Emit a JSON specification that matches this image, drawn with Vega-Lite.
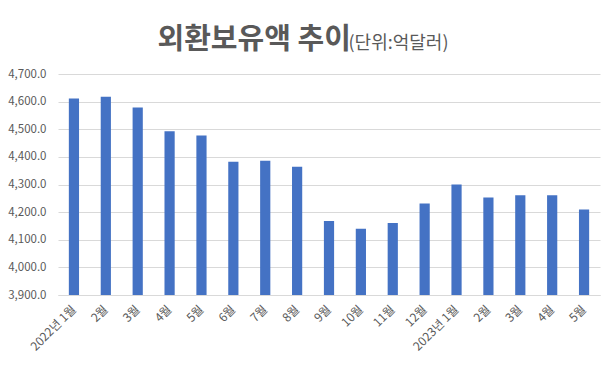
{
  "$schema": "https://vega.github.io/schema/vega-lite/v6.json",
  "autosize": {"type": "none"},
  "padding": {"left": 58, "top": 74, "right": 14, "bottom": 74},
  "width": 542,
  "height": 221,
  "background": "white",
  "data": {
    "values": [
      {"ym": "2022-01", "value": 4611.5},
      {"ym": "2022-02", "value": 4617.7},
      {"ym": "2022-03", "value": 4579.0},
      {"ym": "2022-04", "value": 4493.0},
      {"ym": "2022-05", "value": 4477.1},
      {"ym": "2022-06", "value": 4382.8},
      {"ym": "2022-07", "value": 4386.1},
      {"ym": "2022-08", "value": 4364.3},
      {"ym": "2022-09", "value": 4167.7},
      {"ym": "2022-10", "value": 4140.1},
      {"ym": "2022-11", "value": 4161.0},
      {"ym": "2022-12", "value": 4231.2},
      {"ym": "2023-01", "value": 4299.7},
      {"ym": "2023-02", "value": 4252.5},
      {"ym": "2023-03", "value": 4260.7},
      {"ym": "2023-04", "value": 4261.0},
      {"ym": "2023-05", "value": 4209.7}
    ]
  },
  "mark": {"type": "bar", "color": "#4472C4", "clip": true},
  "encoding": {
    "x": {
      "field": "ym",
      "type": "ordinal",
      "sort": null,
      "scale": {"paddingInner": 0.68, "paddingOuter": 0.34},
      "axis": {
        "labelExpr": "(substring(datum.value,5,7)=='01' ? substring(datum.value,0,4)+'년 ' : '') + toNumber(substring(datum.value,5,7)) + '월'",
        "labelAngle": -45,
        "labelAlign": "right",
        "labelBaseline": "middle",
        "labelPadding": 12,
        "labelFont": "Noto Sans CJK KR",
        "labelFontSize": 12,
        "labelColor": "#595959",
        "ticks": false,
        "domainColor": "#d9d9d9",
        "grid": false,
        "title": "(단위:억달러)",
        "titleAngle": 0,
        "titleAlign": "left",
        "titleBaseline": "alphabetic",
        "titleX": 290,
        "titleY": -247,
        "titleFont": "Noto Sans CJK KR",
        "titleFontSize": 18,
        "titleFontWeight": "normal",
        "titleColor": "#595959"
      }
    },
    "y": {
      "field": "value",
      "type": "quantitative",
      "scale": {"domain": [3900, 4700], "nice": false, "zero": false},
      "axis": {
        "values": [3900, 4000, 4100, 4200, 4300, 4400, 4500, 4600, 4700],
        "format": ",.1f",
        "labelFont": "Noto Sans CJK KR",
        "labelFontSize": 11.5,
        "labelColor": "#595959",
        "labelPadding": 12,
        "ticks": false,
        "domain": false,
        "gridColor": "#d9d9d9",
        "title": "외환보유액 추이",
        "titleAngle": 0,
        "titleAlign": "left",
        "titleBaseline": "alphabetic",
        "titleX": 99,
        "titleY": -26,
        "titleFont": "Noto Sans CJK KR",
        "titleFontSize": 29,
        "titleFontWeight": "bold",
        "titleColor": "#595959"
      }
    }
  },
  "config": {"view": {"stroke": null}}
}
